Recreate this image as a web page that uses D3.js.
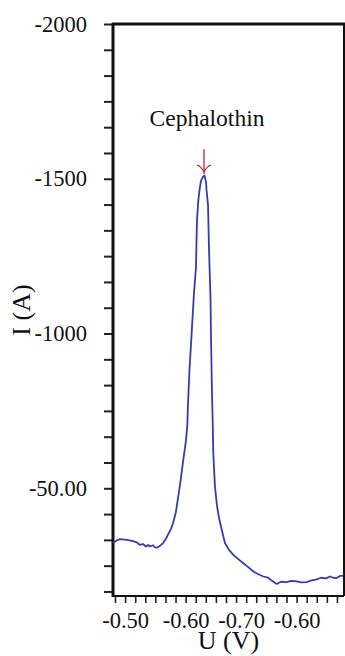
<!DOCTYPE html>
<html>
<head>
<meta charset="utf-8">
<script src="https://cdn.jsdelivr.net/npm/d3@7"></script>
<style>
  body { margin: 0; background: #fff; }
  svg text { font-family: "Liberation Serif", "Times New Roman", serif; fill: #111; }
</style>
</head>
<body>
<div id="chart"></div>
<script>
// potential (V) and current
const potential = [
  -0.4880, -0.4920, -0.4949, -0.5019, -0.5068, -0.5118, -0.5148, -0.5177, -0.5207, -0.5227,
  -0.5247, -0.5277, -0.5296, -0.5316, -0.5346, -0.5376, -0.5405, -0.5425, -0.5455, -0.5475,
  -0.5502, -0.5514, -0.5527, -0.5551, -0.5577, -0.5604, -0.5617, -0.5623, -0.5638, -0.5660,
  -0.5683, -0.5703, -0.5708, -0.5713, -0.5726, -0.5738, -0.5752, -0.5772, -0.5787, -0.5802,
  -0.5807, -0.5822, -0.5832, -0.5847, -0.5852, -0.5861, -0.5868, -0.5874, -0.5891, -0.5911,
  -0.5931, -0.5958, -0.5990, -0.6030, -0.6073, -0.6119, -0.6172, -0.6218, -0.6271, -0.6317,
  -0.6370, -0.6417, -0.6456, -0.6503, -0.6545, -0.6602, -0.6645, -0.6701, -0.6744, -0.6800,
  -0.6843, -0.6899, -0.6942, -0.6992, -0.7031, -0.7061, -0.7098, -0.7130, -0.7163
];
const current = [
  -323, -332, -336, -333, -330, -325, -317, -320, -312, -317,
  -312, -316, -309, -308, -314, -323, -337, -350, -369, -387,
  -421, -446, -473, -527, -592, -656, -705, -769, -882, -1002,
  -1131, -1216, -1302, -1367, -1431, -1464, -1493, -1506, -1511, -1490,
  -1464, -1415, -1270, -1109, -979, -808, -721, -614, -505, -443,
  -404, -366, -323, -301, -285, -272, -258, -246, -231, -223,
  -215, -211, -201, -191, -198, -197, -201, -199, -196, -197,
  -202, -206, -211, -209, -215, -211, -210, -217, -217
];

const yTickValues = [-2000, -1500, -1000, -500];
const yTickLabels = ["-2000", "-1500", "-1000", "-50.00"];
const xTickValues = [-0.50, -0.56, -0.615, -0.67];
const xTickLabels = ["-0.50", "-0.60", "-0.70", "-0.60"];

const peakLabel = "Cephalothin";
const peakU = -0.5782;
const arrowFrom = -1595;
const arrowTo = -1515;

const width = 345, height = 656;
const margin = { top: 24, right: 1, bottom: 60, left: 113 };
const innerWidth = width - margin.left - margin.right;
const innerHeight = height - margin.top - margin.bottom;

const data = potential.map((u, i) => ({ u: u, i: current[i] }));

const xScale = d3.scaleLinear()
  .domain([-0.488, -0.717])
  .range([0, innerWidth]);

const yScale = d3.scaleLinear()
  .domain([-2000, -152])
  .range([0, innerHeight]);

const svg = d3.select("#chart")
  .append("svg")
    .attr("width", width)
    .attr("height", height);

const innerChart = svg
  .append("g")
    .attr("transform", `translate(${margin.left}, ${margin.top})`);

// minor ticks
const yMinor = d3.range(0, 23).map(k => -2000 + k * 500 / 6);
innerChart
  .append("g")
    .call(d3.axisLeft(yScale).tickValues(yMinor).tickSize(9).tickFormat(""))
    .call(g => g.select(".domain").remove())
    .call(g => g.selectAll("line").attr("stroke", "#222").attr("stroke-width", 2));

innerChart
  .append("g")
    .call(d3.axisLeft(yScale).tickValues(yTickValues).tickSize(0).tickPadding(26)
      .tickFormat((d, i) => yTickLabels[i]))
    .call(g => g.select(".domain").remove())
    .call(g => g.selectAll("text").style("font-size", "22.5px"));

const xMinor = d3.range(0, 23).map(k => -0.49 - k * 0.01);
innerChart
  .append("g")
    .attr("transform", `translate(0, ${innerHeight})`)
    .call(d3.axisBottom(xScale).tickValues(xMinor).tickSize(7).tickFormat(""))
    .call(g => g.select(".domain").remove())
    .call(g => g.selectAll("line").attr("stroke", "#222").attr("stroke-width", 1.6));

innerChart
  .append("g")
    .attr("transform", `translate(0, ${innerHeight})`)
    .call(d3.axisBottom(xScale).tickValues(xTickValues).tickSize(0).tickPadding(16)
      .tickFormat((d, i) => xTickLabels[i]))
    .call(g => g.select(".domain").remove())
    .call(g => g.selectAll("text").style("font-size", "22.5px"));

// frame
const frame = innerChart.append("g").attr("stroke", "#111");
frame.append("line")
  .attr("x1", -1).attr("x2", width - margin.left).attr("y1", 0).attr("y2", 0)
  .attr("stroke-width", 3);
frame.append("line")
  .attr("x1", 0).attr("x2", 0).attr("y1", -1).attr("y2", innerHeight + 1)
  .attr("stroke-width", 3);
frame.append("line")
  .attr("x1", innerWidth).attr("x2", innerWidth).attr("y1", 0).attr("y2", innerHeight)
  .attr("stroke-width", 2);
frame.append("line")
  .attr("x1", 0).attr("x2", innerWidth).attr("y1", innerHeight).attr("y2", innerHeight)
  .attr("stroke-width", 2);

// curve
const line = d3.line()
  .x(d => xScale(d.u))
  .y(d => yScale(d.i));

innerChart
  .append("path")
    .datum(data)
    .attr("d", line)
    .attr("fill", "none")
    .attr("stroke", "#3a3ab0")
    .attr("stroke-width", 1.8)
    .attr("stroke-linejoin", "round");

// peak marker
const ax = xScale(peakU);
const arrow = innerChart.append("g")
  .attr("stroke", "#c0394a")
  .attr("stroke-width", 1.4)
  .attr("fill", "none");
arrow.append("line")
  .attr("x1", ax).attr("x2", ax)
  .attr("y1", yScale(arrowFrom)).attr("y2", yScale(arrowTo));
arrow.append("path")
  .attr("d", `M${ax - 7},${yScale(arrowTo) - 9} Q${ax - 3},${yScale(arrowTo) - 8} ${ax},${yScale(arrowTo) - 2}`
    + ` M${ax + 7},${yScale(arrowTo) - 9} Q${ax + 3},${yScale(arrowTo) - 8} ${ax},${yScale(arrowTo) - 2}`);

innerChart
  .append("text")
    .attr("x", ax + 3)
    .attr("y", yScale(-1670))
    .attr("text-anchor", "middle")
    .style("font-size", "23.5px")
    .text(peakLabel);

// axis titles
svg
  .append("text")
    .attr("transform", `translate(30, ${margin.top + innerHeight / 2}) rotate(-90)`)
    .attr("text-anchor", "middle")
    .style("font-size", "26px")
    .text("I (A)");

svg
  .append("text")
    .attr("x", margin.left + innerWidth / 2)
    .attr("y", 649)
    .attr("text-anchor", "middle")
    .style("font-size", "26px")
    .text("U (V)");
</script>
</body>
</html>
